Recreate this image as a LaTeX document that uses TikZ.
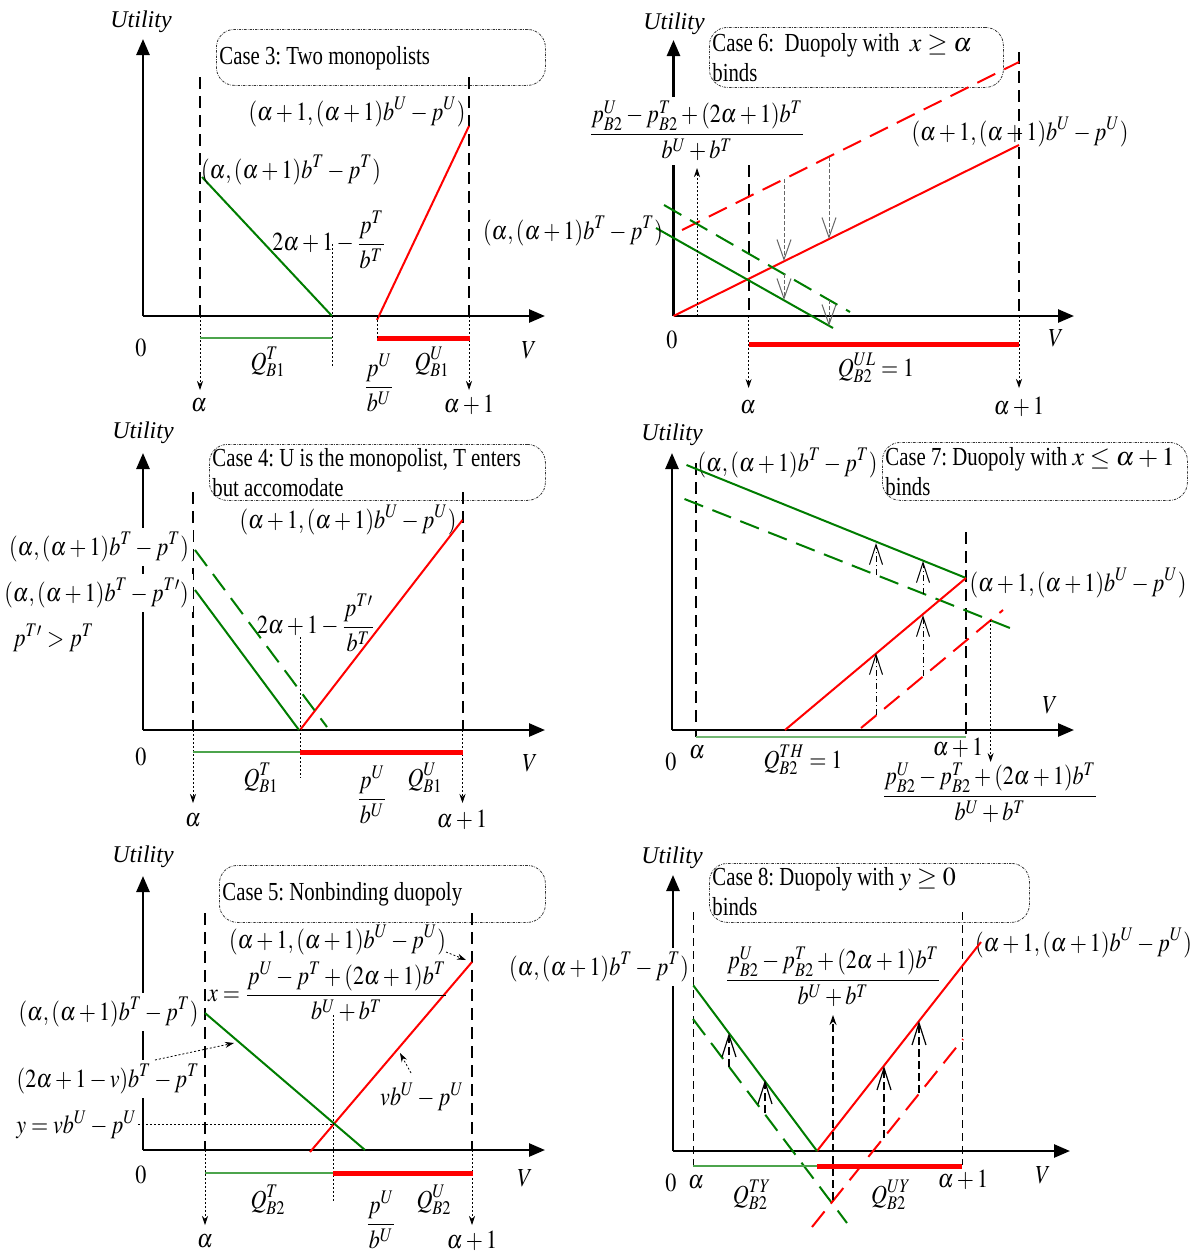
\documentclass[tikz,border=0pt]{standalone}
\usepackage{amsmath}
\usepackage{mathptmx}
\usepackage[no-math]{fontspec}
\setmainfont{Liberation Serif}
\newfontfamily\casefont[FakeStretch=0.8]{Liberation Serif}
\usepackage{graphicx}
\usetikzlibrary{arrows.meta}
\definecolor{myred}{RGB}{255,0,0}
\definecolor{mygreen}{RGB}{0,125,0}
\newcommand\M[1]{\scalebox{0.85}[1]{$\displaystyle #1$}}
\tikzset{
 axis/.style={line width=1.3pt,-{Triangle[length=8pt,width=6.5pt]}},
 vdash/.style={line width=1pt,dash pattern=on 6pt off 3.5pt},
 vthin/.style={line width=0.5pt,dash pattern=on 4pt off 2.5pt},
 dotarr/.style={line width=0.4pt,dash pattern=on 1pt off 1pt,-{Stealth[length=4.5pt,width=3pt]}},
 dotl/.style={line width=0.4pt,dash pattern=on 1pt off 1pt},
 redl/.style={draw=myred,line width=1pt},
 reddash/.style={draw=myred,line width=1pt,dash pattern=on 10pt off 5pt},
 grnl/.style={draw=mygreen,line width=1pt},
 grndash/.style={draw=mygreen,line width=1pt,dash pattern=on 10pt off 5pt},
 gthin/.style={draw=mygreen!70,line width=0.6pt},
 gthick/.style={draw=mygreen!55,line width=1.2pt},
 rthick/.style={draw=myred,line width=2.5pt},
 openarr/.style={draw=black!60,line width=0.5pt,dash pattern=on 2pt off 1pt,-{Straight Barb[length=10pt,width=7pt,line width=0.5pt]}},
 dasharr/.style={line width=0.5pt,dash pattern=on 3pt off 1.5pt on 0.5pt off 1.5pt,-{Straight Barb[length=10pt,width=6.5pt,line width=0.5pt]}},
 bdasharr/.style={line width=0.7pt,dash pattern=on 4pt off 2pt,-{Straight Barb[length=11pt,width=7pt,line width=0.6pt]}},
 bdashup/.style={line width=0.6pt,dash pattern=on 4pt off 2pt,-{Stealth[length=5pt,width=3.5pt]}},
 ml/.style={font=\fontsize{13}{15}\selectfont, inner sep=1pt},
 wl/.style={ml, fill=white, inner sep=2pt},
 ut/.style={font=\fontsize{12}{14}\selectfont\itshape, inner sep=0pt},
 cbox/.style={draw=black!80,line width=0.4pt,dash pattern=on 1.2pt off 0.6pt on 0.3pt off 0.6pt,
   rounded corners=9pt, anchor=north west, inner sep=0pt},
 ctext/.style={anchor=west, align=left, inner sep=0pt,
   font=\casefont\fontsize{13}{15}\selectfont\frenchspacing},
}
\begin{document}
\begin{tikzpicture}[x=0.5pt,y=-0.5pt]
\useasboundingbox[fill=white] (0,0) rectangle (1198,1253);

%================ Panel 1: Case 3
\node[ut] (u1) at (141,22) {Utility};
\coordinate (o1) at (143,316);
\draw[axis] (o1) -- (143,39) coordinate (yt1);
\draw[axis] (o1) -- (545,316) coordinate (xt1);
\node[cbox, minimum width=164.5pt, minimum height=28pt] (b1) at (216,29) {};
\node[ctext] (c1) at (219,58) {Case 3: Two monopolists};
\draw[vdash] (200,77) coordinate (d1a) -- (200,316) coordinate (d1b);
\draw[dotarr] (d1b) -- (200,390) coordinate (d1c);
\node[ml] (a1) at (199,405) {\M{\alpha}};
\draw[vdash] (469,77) coordinate (e1a) -- (469,316) coordinate (e1b);
\draw[dotarr] (e1b) -- (469,390) coordinate (e1c);
\node[ml] (a1p) at (469,405) {\M{\alpha+1}};
\node[ml] (l1u) at (357,112) {\M{(\alpha+1,(\alpha+1)b^U-p^U)}};
\draw[redl] (377,320) coordinate (r1a) -- (469,126) coordinate (r1b);
\draw[grnl] (202,177) coordinate (g1a) -- (332,316) coordinate (g1b);
\node[ml] (l1t) at (291,170) {\M{(\alpha,(\alpha+1)b^T-p^T)}};
\node[ml] (l1k) at (329,240) {\M{2\alpha+1-\dfrac{p^T}{b^T}}};
\draw[dotl] (332,244) coordinate (v1a) -- (332,367) coordinate (v1b);
\draw[gthin] (200,338) coordinate (q1a) -- (332,338) coordinate (q1b);
\draw[rthick] (377,338) coordinate (q1c) -- (470,338) coordinate (q1d);
\draw[dotl] (377,316) coordinate (w1a) -- (377,340) coordinate (w1b);
\node[ml] (z1) at (141,348) {\M{0}};
\node[ml] (vv1) at (529,350) {\M{V}};
\node[ml] (qt1) at (268,362) {\M{Q^T_{B1}}};
\node[ml] (pb1) at (379,383) {\M{\dfrac{p^U}{b^U}}};
\node[ml] (qu1) at (432,362) {\M{Q^U_{B1}}};

%================ Panel 2: Case 6
\node[ut] (u2) at (674,24) {Utility};
\coordinate (o2) at (673.5,316);
\draw[axis] (o2) -- (673.5,40) coordinate (yt2);
\draw[axis] (o2) -- (1074,316) coordinate (xt2);
\node[cbox, minimum width=147pt, minimum height=30pt] (b2) at (709,27) {};
\node[ctext] (c2) at (712,58) {Case 6:\ \ Duopoly with\ \ $x\geq\alpha$\\binds};
\draw[vdash] (748.6,165) coordinate (d2a) -- (748.6,316) coordinate (d2b);
\draw[dotarr] (d2b) -- (748.6,388) coordinate (d2c);
\node[ml] (a2) at (748,407) {\M{\alpha}};
\draw[vdash] (1019,52) coordinate (e2a) -- (1019,316) coordinate (e2b);
\draw[dotarr] (e2b) -- (1019,388) coordinate (e2c);
\node[ml] (a2p) at (1019,407) {\M{\alpha+1}};
\draw[reddash] (682,230) coordinate (rd2a) -- (1019,62) coordinate (rd2b);
\draw[redl] (o2) -- (1019,145) coordinate (r2b);
\node[ml] (l2u) at (1020,132) {\M{(\alpha+1,(\alpha+1)b^U-p^U)}};
\draw[grnl] (656,228) coordinate (g2a) -- (833,328) coordinate (g2b);
\draw[grndash] (664,205) coordinate (gd2a) -- (850,312) coordinate (gd2b);
\node[ml] (l2t) at (573,231) {\M{(\alpha,(\alpha+1)b^T-p^T)}};
\node[wl] (l2x) at (697,131) {\M{\dfrac{p^U_{B2}-p^T_{B2}+(2\alpha+1)b^T}{b^U+b^T}}};
\draw[dotarr] (697,316) coordinate (up2a) -- (697,168) coordinate (up2b);
\draw[openarr] (784,179) coordinate (m2a) -- (784,261) coordinate (m2b);
\draw[openarr] (784,274) coordinate (m2c) -- (784,300) coordinate (m2d);
\draw[openarr] (829,157) coordinate (n2a) -- (829,239) coordinate (n2b);
\draw[openarr] (829,300) coordinate (n2c) -- (829,326) coordinate (n2d);
\draw[rthick] (748.6,344) coordinate (q2a) -- (1019,344) coordinate (q2b);
\node[ml] (z2) at (672,340) {\M{0}};
\node[ml] (vv2) at (1056,338) {\M{V}};
\node[ml] (qu2) at (876,368) {\M{Q^{UL}_{B2}=1}};

%================ Panel 3: Case 4
\node[ut] (u3) at (143,433) {Utility};
\coordinate (o3) at (143,730);
\draw[axis] (o3) -- (143,453) coordinate (yt3);
\draw[axis] (o3) -- (545,730) coordinate (xt3);
\node[cbox, minimum width=168pt, minimum height=28pt] (b3) at (209,444) {};
\node[ctext] (c3) at (212,473) {Case 4: U is the monopolist, T enters\\but accomodate};
\draw[vdash] (193,492) coordinate (d3a) -- (193,730) coordinate (d3b);
\draw[dotarr] (d3b) -- (193,803) coordinate (d3c);
\node[ml] (a3) at (193,820) {\M{\alpha}};
\draw[vdash] (462.5,492) coordinate (e3a) -- (462.5,730) coordinate (e3b);
\draw[dotarr] (e3b) -- (462.5,803) coordinate (e3c);
\node[ml] (a3p) at (462,820) {\M{\alpha+1}};
\node[ml] (l3u) at (348,520) {\M{(\alpha+1,(\alpha+1)b^U-p^U)}};
\draw[redl] (300,730) coordinate (r3a) -- (462.5,520) coordinate (r3b);
\draw[grnl] (195,590) coordinate (g3a) -- (299,730) coordinate (g3b);
\draw[grndash] (195,550) coordinate (gd3a) -- (327,727) coordinate (gd3b);
\node[wl] (l3t) at (99,547) {\M{(\alpha,(\alpha+1)b^T-p^T)}};
\node[wl] (l3tp) at (96.5,593) {\M{(\alpha,(\alpha+1)b^T-p^{T\prime})}};
\node[ml] (l3c) at (53.5,638) {\M{p^{T\prime}>p^T}};
\node[ml] (l3k) at (316,623) {\M{2\alpha+1-\dfrac{p^{T\prime}}{b^T}}};
\draw[dotl] (300,637) coordinate (v3a) -- (300,778) coordinate (v3b);
\draw[gthin] (193,752) coordinate (q3a) -- (300,752) coordinate (q3b);
\draw[rthick] (300,752) coordinate (q3c) -- (463,752) coordinate (q3d);
\node[ml] (z3) at (141,757) {\M{0}};
\node[ml] (vv3) at (530,763) {\M{V}};
\node[ml] (qt3) at (261,778) {\M{Q^T_{B1}}};
\node[ml] (pb3) at (372,795) {\M{\dfrac{p^U}{b^U}}};
\node[ml] (qu3) at (425,778) {\M{Q^U_{B1}}};

%================ Panel 4: Case 7
\node[ut] (u4) at (672,435) {Utility};
\coordinate (o4) at (672,730);
\draw[axis] (o4) -- (672,453) coordinate (yt4);
\draw[axis] (o4) -- (1074,730) coordinate (xt4);
\node[cbox, minimum width=152.5pt, minimum height=29pt] (b4) at (882,442) {};
\node[ctext] (c4) at (885,472) {Case 7: Duopoly with $x\leq\alpha+1$\\binds};
\draw[vdash] (695.5,463) coordinate (d4a) -- (695.5,737) coordinate (d4b);
\node[ml] (a4) at (697,752) {\M{\alpha}};
\draw[vdash] (966,532) coordinate (e4a) -- (966,737) coordinate (e4b);
\node[ml] (a4p) at (958,748) {\M{\alpha+1}};
\node[ml] (l4t) at (787.5,463) {\M{(\alpha,(\alpha+1)b^T-p^T)}};
\draw[grnl] (686.5,465) coordinate (g4a) -- (966,578) coordinate (g4b);
\draw[grndash] (684.5,499) coordinate (gd4a) -- (1015,630) coordinate (gd4b);
\draw[redl] (785,730) coordinate (r4a) -- (966,578) coordinate (r4b);
\draw[reddash] (861,728) coordinate (rd4a) -- (1003,610) coordinate (rd4b);
\node[ml] (l4u) at (1078,583) {\M{(\alpha+1,(\alpha+1)b^U-p^U)}};
\draw[dasharr] (876,575) coordinate (m4a) -- (876,543) coordinate (m4b);
\draw[dasharr] (923,594) coordinate (n4a) -- (923,561) coordinate (n4b);
\draw[dasharr] (876,715) coordinate (m4c) -- (876,653) coordinate (m4d);
\draw[dasharr] (923,676) coordinate (n4c) -- (923,615) coordinate (n4d);
\draw[dotarr] (990.6,620) coordinate (x4a) -- (990.6,762) coordinate (x4b);
\draw[gthick] (695.5,737) coordinate (q4a) -- (966,737) coordinate (q4b);
\node[ml] (z4) at (671,762) {\M{0}};
\node[ml] (vv4) at (1050,705) {\M{V}};
\node[ml] (qt4) at (803,760) {\M{Q^{TH}_{B2}=1}};
\node[ml] (l4x) at (990,793) {\M{\dfrac{p^U_{B2}-p^T_{B2}+(2\alpha+1)b^T}{b^U+b^T}}};

%================ Panel 5: Case 5
\node[ut] (u5) at (143,857) {Utility};
\coordinate (o5) at (143,1150);
\draw[axis] (o5) -- (143,876) coordinate (yt5);
\draw[axis] (o5) -- (545,1150) coordinate (xt5);
\node[cbox, minimum width=163pt, minimum height=28.5pt] (b5) at (219,865) {};
\node[ctext] (c5) at (222,894) {Case 5: Nonbinding duopoly};
\draw[vdash] (205,913) coordinate (d5a) -- (205,1150) coordinate (d5b);
\draw[dotarr] (d5b) -- (205,1225) coordinate (d5c);
\node[ml] (a5) at (205,1241) {\M{\alpha}};
\draw[vdash] (472,913) coordinate (e5a) -- (472,1150) coordinate (e5b);
\draw[dotarr] (e5b) -- (472,1225) coordinate (e5c);
\node[ml] (a5p) at (472,1241) {\M{\alpha+1}};
\node[ml] (l5u) at (337.5,940) {\M{(\alpha+1,(\alpha+1)b^U-p^U)}};
\draw[redl] (310,1152) coordinate (r5a) -- (472,962) coordinate (r5b);
\draw[dotarr] (446,952) coordinate (k5a) -- (466,960) coordinate (k5b);
\draw[grnl] (205,1013) coordinate (g5a) -- (365,1150) coordinate (g5b);
\node[wl] (l5t) at (108.5,1012) {\M{(\alpha,(\alpha+1)b^T-p^T)}};
\node[wl] (l5g) at (108,1079) {\M{(2\alpha+1-v)b^T-p^T}};
\node[ml] (l5x) at (328,992) {\M{x=\dfrac{p^U-p^T+(2\alpha+1)b^T}{b^U+b^T}}};
\draw[dotl] (333,1015) coordinate (v5a) -- (333,1203) coordinate (v5b);
\draw[dotarr] (155,1060) coordinate (k5c) -- (234,1043) coordinate (k5d);
\node[ml] (l5v) at (422,1097) {\M{vb^U-p^U}};
\draw[dotarr] (411,1073) coordinate (k5e) -- (400,1053) coordinate (k5f);
\node[ml] (l5y) at (76.5,1125) {\M{y=vb^U-p^U}};
\draw[dotl] (138,1124) coordinate (h5a) -- (333,1124) coordinate (h5b);
\draw[gthin] (205,1173) coordinate (q5a) -- (333,1173) coordinate (q5b);
\draw[rthick] (333,1173) coordinate (q5c) -- (473,1173) coordinate (q5d);
\node[ml] (z5) at (141,1175) {\M{0}};
\node[ml] (vv5) at (525,1178) {\M{V}};
\node[ml] (qt5) at (268,1200) {\M{Q^T_{B2}}};
\node[ml] (pb5) at (381,1220) {\M{\dfrac{p^U}{b^U}}};
\node[ml] (qu5) at (434,1200) {\M{Q^U_{B2}}};

%================ Panel 6: Case 8
\node[ut] (u6) at (672,858) {Utility};
\coordinate (o6) at (673,1151);
\draw[axis] (o6) -- (673,875) coordinate (yt6);
\draw[axis] (o6) -- (1070,1151) coordinate (xt6);
\node[cbox, minimum width=160pt, minimum height=29.5pt] (b6) at (709,863) {};
\node[ctext] (c6) at (712,892) {Case 8: Duopoly with $y\geq 0$\\binds};
\draw[vthin] (693,912) coordinate (d6a) -- (693,1168) coordinate (d6b);
\draw[vthin] (962,912) coordinate (e6a) -- (962,1165) coordinate (e6b);
\node[ml] (a6) at (696,1182) {\M{\alpha}};
\node[ml] (a6p) at (963,1180) {\M{\alpha+1}};
\node[ml] (l6u) at (1083.5,943) {\M{(\alpha+1,(\alpha+1)b^U-p^U)}};
\draw[redl] (817,1151) coordinate (r6a) -- (981,942) coordinate (r6b);
\draw[grnl] (693,985) coordinate (g6a) -- (817,1151) coordinate (g6b);
\draw[grndash] (693,1019) coordinate (gd6a) -- (847,1223) coordinate (gd6b);
\draw[reddash] (812,1227) coordinate (rd6a) -- (963,1039) coordinate (rd6b);
\node[ml] (l6x) at (833,977) {\M{\dfrac{p^U_{B2}-p^T_{B2}+(2\alpha+1)b^T}{b^U+b^T}}};
\node[wl] (l6t) at (599,967) {\M{(\alpha,(\alpha+1)b^T-p^T)}};
\draw[bdashup] (833,1200) coordinate (up6a) -- (833,1015) coordinate (up6b);
\draw[bdasharr] (729,1067) coordinate (m6a) -- (729,1033) coordinate (m6b);
\draw[bdasharr] (765,1113) coordinate (m6c) -- (765,1080) coordinate (m6d);
\draw[bdasharr] (884,1138) coordinate (n6a) -- (884,1066) coordinate (n6b);
\draw[bdasharr] (919,1093) coordinate (n6c) -- (919,1021) coordinate (n6d);
\draw[gthin] (693,1166) coordinate (q6a) -- (817,1166) coordinate (q6b);
\draw[rthick] (817,1166) coordinate (q6c) -- (962,1166) coordinate (q6d);
\node[ml] (z6) at (671,1183) {\M{0}};
\node[ml] (vv6) at (1043,1175) {\M{V}};
\node[ml] (qt6) at (752,1195) {\M{Q^{TY}_{B2}}};
\node[ml] (qu6) at (891,1195) {\M{Q^{UY}_{B2}}};
\end{tikzpicture}
\end{document}
